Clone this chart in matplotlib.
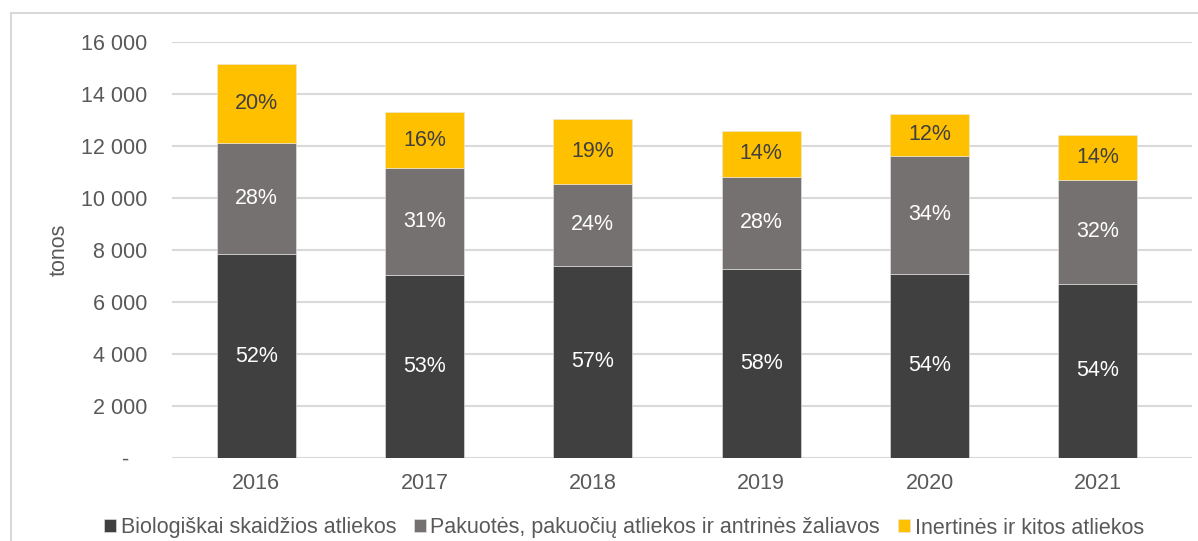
import numpy as np
import matplotlib.pyplot as plt
from matplotlib.lines import Line2D
from matplotlib.ticker import FuncFormatter

plt.rcParams['font.family'] = ['Liberation Sans', 'DejaVu Sans']

years = ['2016', '2017', '2018', '2019', '2020', '2021']
bio = [7840, 7050, 7400, 7280, 7090, 6700]
pak = [4280, 4110, 3140, 3540, 4540, 3990]
inert = [3030, 2140, 2510, 1760, 1590, 1730]
series_names = ['Biologiškai skaidžios atliekos',
                'Pakuotės, pakuočių atliekos ir antrinės žaliavos',
                'Inertinės ir kitos atliekos']
colors = ['#404040', '#767171', '#FFC000']
label_colors = ['white', 'white', '#404040']

W, H = 1198, 541
fig = plt.figure(figsize=(W / 100, H / 100), dpi=100)
ax = fig.add_axes([172 / W, 1 - 458 / H, (1192 - 172) / W, (458 - 42) / H])

x = np.arange(len(years))
data = [np.array(bio), np.array(pak), np.array(inert)]
total = sum(data)
bottom = np.zeros(len(years))
for vals, name, col, lc in zip(data, series_names, colors, label_colors):
    bars = ax.bar(x, vals, 0.47, bottom=bottom, color=col, label=name,
                  edgecolor='#e8e8e8', linewidth=0.4, zorder=3)
    pct = ['{:.0f}%'.format(v) for v in vals / total * 100]
    ax.bar_label(bars, labels=pct, label_type='center', color=lc, fontsize=15.5)
    bottom = bottom + vals

# category step is ~168.5 px, gridlines run a bit past the last slot
ax.set_xlim(-0.5, len(years) - 0.5 + 10 / 168.5)
ax.set_ylim(0, 16000)
ax.set_yticks(np.arange(0, 16001, 2000))
ax.yaxis.set_major_formatter(FuncFormatter(
    lambda v, p: '-   ' if v == 0 else '{:,.0f}'.format(v).replace(',', ' ')))
ax.set_xticks(x)
ax.set_xticklabels(years)
ax.grid(axis='y', color='#d9d9d9', linewidth=1.5, zorder=0)
for s in ax.spines.values():
    s.set_visible(False)
ax.tick_params(axis='both', length=0, labelsize=15.5, colors='#595959')
ax.tick_params(axis='y', pad=18)
ax.tick_params(axis='x', pad=11)
ax.set_ylabel('tonos', fontsize=15.5, color='#595959', labelpad=8)

fig.legend(loc='center', bbox_to_anchor=(624 / W, 1 - 528 / H), ncol=3,
           frameon=False, fontsize=15.5, labelcolor='#595959',
           handlelength=0.55, handleheight=0.55, handletextpad=0.2,
           columnspacing=0.85, borderaxespad=0)

# outer chart border (continues past the image edge)
fig.add_artist(Line2D([11 / W, 11 / W], [0, 1 - 13 / H], color='#d9d9d9', linewidth=1.5))
fig.add_artist(Line2D([11 / W, 1], [1 - 13 / H, 1 - 13 / H], color='#d9d9d9', linewidth=1.5))

fig.savefig('out.png', dpi=100)
